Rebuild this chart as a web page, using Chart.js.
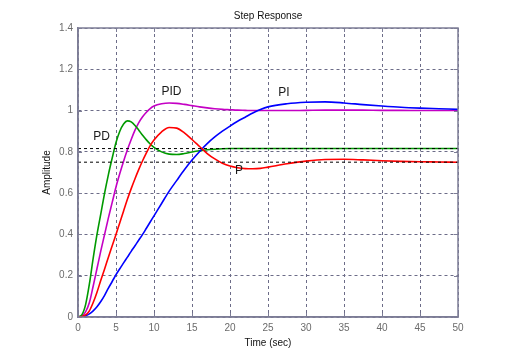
<!DOCTYPE html>
<html>
<head>
<meta charset="utf-8">
<script src="https://cdn.jsdelivr.net/npm/chart.js@4.4.0/dist/chart.umd.min.js"></script>
<style>
  html, body { margin: 0; padding: 0; background: #fff; }
  #chart { display: block; }
</style>
</head>
<body>
<canvas id="chart" width="505" height="359"></canvas>
<script>
// time samples (sec)
const timeSec = [0, 0.5, 1, 1.5, 2, 2.5, 3, 3.5, 4, 4.5, 5, 5.5, 6, 6.5, 7, 7.5, 8, 8.5, 9, 9.5, 10,
  11, 12, 13, 14, 15, 16, 17, 18, 19, 20, 21, 22, 23, 24, 25,
  27.5, 30, 32.5, 35, 37.5, 40, 42.5, 45, 47.5, 50];

const respP = [0, 0.002, 0.01, 0.03, 0.07, 0.12, 0.178, 0.233, 0.29, 0.345, 0.4, 0.457, 0.514, 0.57, 0.622, 0.67, 0.715, 0.757, 0.795, 0.83, 0.857,
  0.897, 0.918, 0.915, 0.892, 0.86, 0.826, 0.792, 0.766, 0.745, 0.731, 0.723, 0.719, 0.718, 0.72, 0.726,
  0.742, 0.755, 0.763, 0.764, 0.761, 0.757, 0.754, 0.752, 0.751, 0.75];

const respPI = [0, 0.001, 0.006, 0.015, 0.03, 0.05, 0.075, 0.105, 0.14, 0.172, 0.205, 0.234, 0.262, 0.29, 0.318, 0.345, 0.373, 0.4, 0.43, 0.46, 0.49,
  0.55, 0.61, 0.662, 0.713, 0.76, 0.802, 0.84, 0.872, 0.9, 0.925, 0.948, 0.968, 0.988, 1.005, 1.018,
  1.033, 1.04, 1.042, 1.037, 1.029, 1.022, 1.016, 1.012, 1.009, 1.006];

const respPD = [0, 0.01, 0.06, 0.16, 0.285, 0.4, 0.5, 0.6, 0.69, 0.77, 0.845, 0.9, 0.935, 0.95, 0.945, 0.928, 0.905, 0.88, 0.858, 0.838, 0.822,
  0.8, 0.789, 0.787, 0.792, 0.799, 0.805, 0.81, 0.813, 0.815, 0.816, 0.816, 0.816, 0.816, 0.816, 0.816,
  0.816, 0.816, 0.816, 0.816, 0.816, 0.816, 0.816, 0.816, 0.816, 0.816];

const respPID = [0, 0.005, 0.025, 0.07, 0.15, 0.235, 0.32, 0.4, 0.48, 0.555, 0.63, 0.695, 0.755, 0.81, 0.86, 0.905, 0.942, 0.97, 0.992, 1.01, 1.022,
  1.033, 1.037, 1.035, 1.03, 1.024, 1.018, 1.013, 1.009, 1.006, 1.004, 1.002, 1.001, 1.0, 1.0, 1.0,
  1.0, 1.001, 1.002, 1.002, 1.002, 1.001, 1.001, 1.0, 1.0, 1.0];

// steady-state reference levels (dashed black)
const refLevels = [0.816, 0.75];

const xTicks = [0, 5, 10, 15, 20, 25, 30, 35, 40, 45, 50];
const yTicks = [0, 0.2, 0.4, 0.6, 0.8, 1, 1.2, 1.4];

// curve labels: [text, t, amplitude]
const curveLabels = [
  ["PD", 3.1, 0.874],
  ["PID", 12.3, 1.092],
  ["PI", 27.1, 1.087],
  ["P", 21.2, 0.71]
];

const frameColor = "#7d7d96";
const gridColor = "#6c6c88";
const fontFam = "'Liberation Sans', Arial, sans-serif";

const toXY = (vals) => vals.map((v, i) => ({ x: timeSec[i], y: v }));

const curve = (label, vals, color) => ({
    label: label,
    data: toXY(vals),
    borderColor: color,
    borderWidth: 1.6,
    pointRadius: 0,
    cubicInterpolationMode: "monotone",
    fill: false
});

const refSets = refLevels.map((lvl) => ({
    label: "ref " + lvl,
    data: [{ x: 0, y: lvl }, { x: 50, y: lvl }],
    borderColor: "#000",
    borderWidth: 1,
    borderDash: [3, 3],
    pointRadius: 0,
    fill: false
}));

// frame, inner tick marks, title and curve labels
const decorPlugin = {
    id: "decor",
    afterDatasetsDraw(chart) {
        const { ctx, chartArea: a, scales } = chart;
        ctx.save();
        ctx.strokeStyle = frameColor;
        ctx.lineWidth = 1;
        ctx.setLineDash([]);
        ctx.beginPath();
        xTicks.forEach((t) => {
            const px = Math.round(scales.x.getPixelForValue(t)) + 0.5;
            ctx.moveTo(px, a.bottom); ctx.lineTo(px, a.bottom - 4);
            ctx.moveTo(px, a.top); ctx.lineTo(px, a.top + 4);
        });
        yTicks.forEach((v) => {
            const py = Math.round(scales.y.getPixelForValue(v)) + 0.5;
            ctx.moveTo(a.left, py); ctx.lineTo(a.left + 4, py);
            ctx.moveTo(a.right, py); ctx.lineTo(a.right - 4, py);
        });
        ctx.stroke();
        ctx.lineWidth = 1.5;
        ctx.strokeRect(a.left, a.top, a.right - a.left, a.bottom - a.top);

        ctx.fillStyle = "#111";
        ctx.font = "10px " + fontFam;
        ctx.textAlign = "center";
        ctx.textBaseline = "middle";
        ctx.fillText("Step Response", (a.left + a.right) / 2, 16);

        ctx.font = "12px " + fontFam;
        ctx.fillStyle = "#1a1a1a";
        curveLabels.forEach(([txt, t, v]) => {
            ctx.fillText(txt, scales.x.getPixelForValue(t), scales.y.getPixelForValue(v));
        });
        ctx.restore();
    }
};

new Chart(document.getElementById("chart"), {
    type: "line",
    data: {
        datasets: [
            ...refSets,
            curve("P", respP, "#ff0000"),
            curve("PI", respPI, "#0000ff"),
            curve("PD", respPD, "#009a00"),
            curve("PID", respPID, "#c400c4")
        ]
    },
    options: {
        responsive: false,
        animation: false,
        devicePixelRatio: 1,
        layout: { padding: { left: 0, right: 47, top: 28, bottom: 0 } },
        plugins: { legend: { display: false }, tooltip: { enabled: false } },
        scales: {
            x: {
                type: "linear",
                min: 0,
                max: 50,
                afterBuildTicks: (s) => { s.ticks = xTicks.map((v) => ({ value: v })); },
                afterFit: (s) => { s.height = 42; },
                grid: { color: gridColor, lineWidth: 1, drawTicks: false },
                border: { display: true, color: frameColor, width: 1.5, dash: [3, 3] },
                ticks: { color: "#6b6b6b", font: { size: 10, family: fontFam }, padding: 5, maxRotation: 0 },
                title: { display: true, text: "Time (sec)", color: "#111", font: { size: 10, family: fontFam }, padding: { top: 0, bottom: 10 } }
            },
            y: {
                type: "linear",
                min: 0,
                max: 1.4,
                afterBuildTicks: (s) => { s.ticks = yTicks.map((v) => ({ value: v })); },
                afterFit: (s) => { s.width = 78; },
                grid: { color: gridColor, lineWidth: 1, drawTicks: false },
                border: { display: true, color: frameColor, width: 1.5, dash: [3, 3] },
                ticks: { color: "#6b6b6b", font: { size: 10, family: fontFam }, padding: 5,
                    callback: (v) => String(Math.round(v * 10) / 10) },
                title: { display: true, text: "Amplitude", color: "#111", font: { size: 10, family: fontFam }, padding: { top: 41, bottom: 0 } }
            }
        }
    },
    plugins: [decorPlugin]
});
</script>
</body>
</html>
